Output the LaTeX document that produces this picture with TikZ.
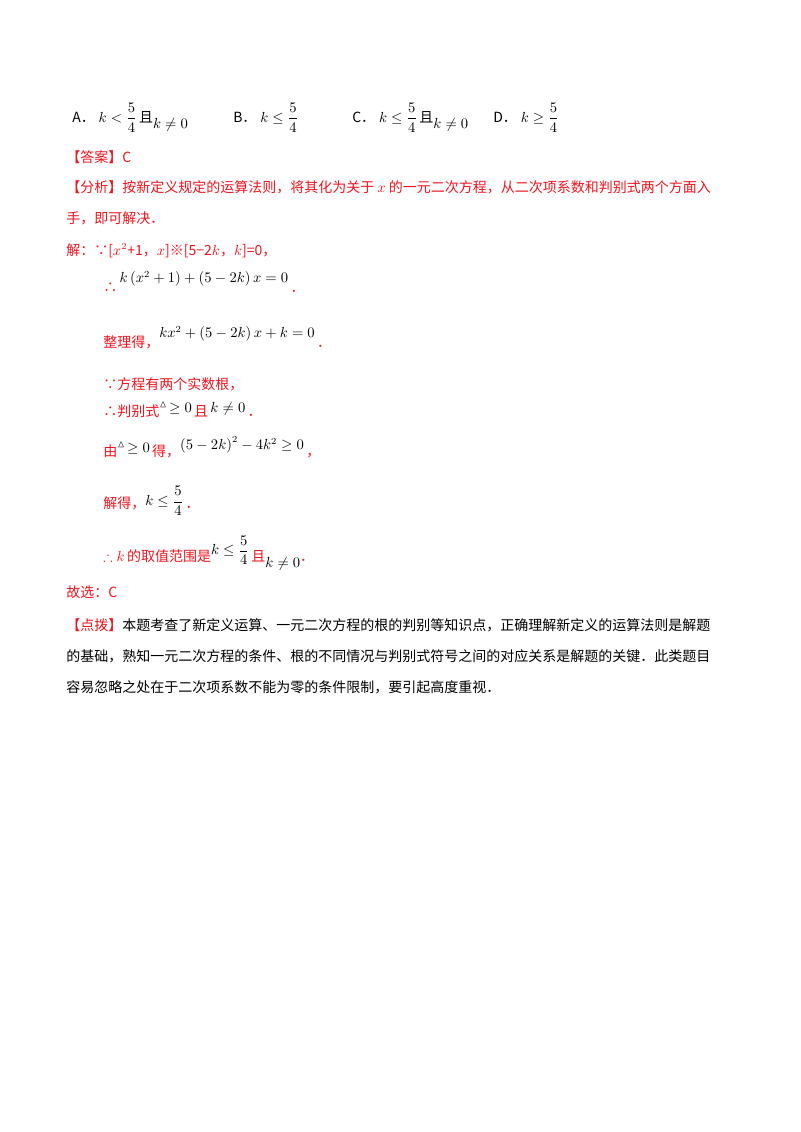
\documentclass[tikz,border=0pt]{standalone}
\usepackage{amsmath,amssymb}
\usepackage{fontspec}
\setmainfont{Noto Sans CJK SC}
\usetikzlibrary{positioning}
\definecolor{ansred}{RGB}{240,20,30}
\newcommand{\lowk}{\raisebox{-0.9ex}{\color{black}$k\neq0$}}
\tikzset{
  txt/.style={anchor=base west,inner sep=0pt,font=\fontsize{10.5}{12}\selectfont},
  red txt/.style={txt,text=ansred},
}
\begin{document}
\begin{tikzpicture}[x=0.75pt,y=-0.75pt]
        \useasboundingbox (0,0) rectangle (800,1132);
        % choices
        \foreach \lab/\px/\body in {%
          A/72/{$k<\dfrac{5}{4}$\,且\lowk},
          B/233/{$k\le\dfrac{5}{4}$},
          C/352/{$k\le\dfrac{5}{4}$\,且\lowk},
          D/493/{$k\ge\dfrac{5}{4}$}} {
          \node[txt] (opt\lab) at (\px,122) {\lab．\;\body};
        }
        % answer and analysis
        \node[red txt] (answer) at (66,162) {【答案】C};
        \node[red txt] (analysis) at (66,192) {【分析】按新定义规定的运算法则，将其化为关于 $x$ 的一元二次方程，从二次项系数和判别式两个方面入};
        \node[red txt] (analysis2) at (66,223) {手，即可解决．};
        % solution steps
        \node[red txt] (sol) at (66,255) {解：∵[$x^2$+1，$x$]※[5−2$k$，$k$]=0，};
        \node[red txt] (step1) at (103,292) {∴\,\raisebox{1.2ex}{\color{black}$k\left(x^2+1\right)+\left(5-2k\right)x=0$}\,．};
        \node[red txt] (step2) at (103,347) {整理得，\raisebox{1.2ex}{\color{black}$kx^2+\left(5-2k\right)x+k=0$}\,．};
        \node[red txt] (step3) at (103,389) {∵方程有两个实数根，};
        \node[red txt] (step4) at (103,416) {∴判别式\raisebox{0.4ex}{\color{black}$^{\vartriangle}\!\ge0$}\,且\,\raisebox{0.4ex}{\color{black}$k\neq0$}\,．};
        \node[red txt] (step5) at (103,456) {由\raisebox{0.4ex}{\color{black}$^{\vartriangle}\!\ge0$}\,得，\raisebox{0.8ex}{\color{black}$\left(5-2k\right)^2-4k^2\ge0$}\,，};
        \node[red txt] (step6) at (103,508) {解得，\raisebox{0.3ex}{\color{black}$k\le\dfrac{5}{4}$}\,．};
        \node[red txt] (step7) at (103,561) {$\therefore k$\,的取值范围是\raisebox{0.8ex}{\color{black}$k\le\dfrac{5}{4}$}\,且\lowk．};
        % choice and comment
        \node[red txt] (pick) at (66,597) {故选：C};
        \node[txt] (comment) at (66,630) {\textcolor{ansred}{【点拨】}本题考查了新定义运算、一元二次方程的根的判别等知识点，正确理解新定义的运算法则是解题};
        \node[txt] (comment2) at (66,661) {的基础，熟知一元二次方程的条件、根的不同情况与判别式符号之间的对应关系是解题的关键．此类题目};
        \node[txt] (comment3) at (66,692) {容易忽略之处在于二次项系数不能为零的条件限制，要引起高度重视．};
      \end{tikzpicture}
\end{document}
